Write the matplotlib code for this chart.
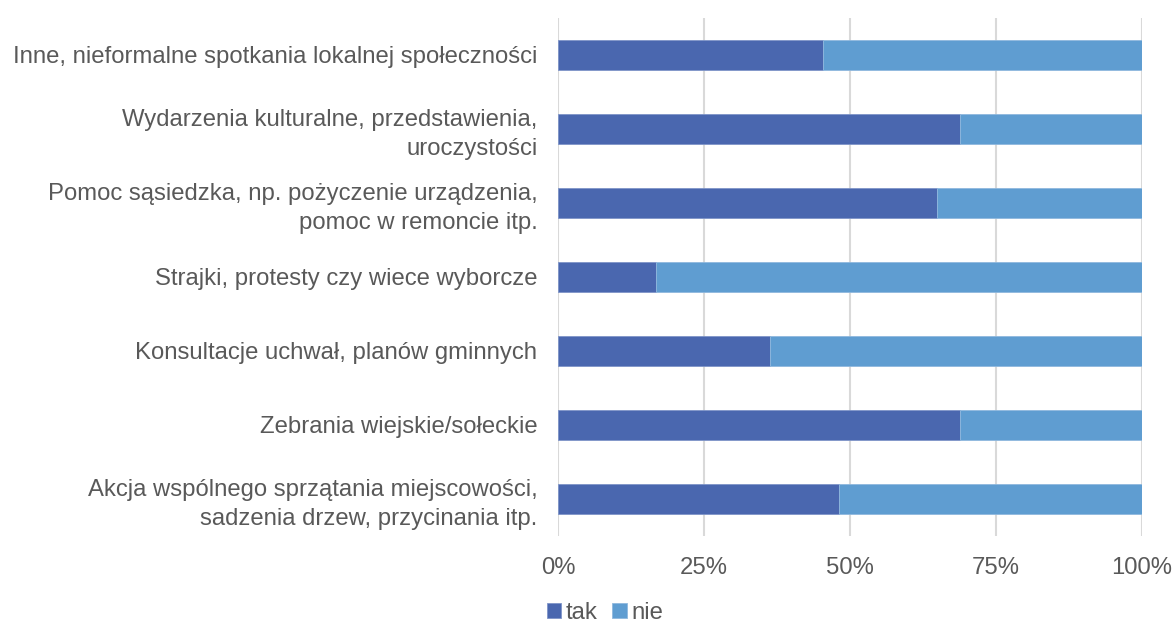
import matplotlib.pyplot as plt
from matplotlib.ticker import PercentFormatter

plt.rcParams['font.family'] = ['Liberation Sans', 'DejaVu Sans']

categories = [
    "Akcja wspólnego sprzątania miejscowości,\nsadzenia drzew, przycinania itp.",
    "Zebrania wiejskie/sołeckie",
    "Konsultacje uchwał, planów gminnych",
    "Strajki, protesty czy wiece wyborcze",
    "Pomoc sąsiedzka, np. pożyczenie urządzenia,\npomoc w remoncie itp.",
    "Wydarzenia kulturalne, przedstawienia,\nuroczystości",
    "Inne, nieformalne spotkania lokalnej społeczności",
]
tak = [48.1, 68.8, 36.3, 16.8, 64.9, 68.8, 45.4]
nie = [100 - v for v in tak]

c_tak = '#4A67AF'
c_nie = '#5F9DD1'
txt = '#595959'
fs = 17.2

fig = plt.figure(figsize=(11.75, 6.25), dpi=100)
ax = fig.add_axes([0.475, 0.1424, 0.497, 0.829])

y = range(len(categories))
ax.barh(y, tak, height=0.4, color=c_tak, label='tak', edgecolor='#7f95c8', linewidth=0.6)
ax.barh(y, nie, left=tak, height=0.4, color=c_nie, label='nie', edgecolor='#8fb8de', linewidth=0.6)

ax.set_xlim(0, 100)
ax.set_ylim(-0.5, len(categories) - 0.5)
ax.set_xticks([0, 25, 50, 75, 100])
ax.xaxis.set_major_formatter(PercentFormatter(decimals=0))
ax.set_yticks(list(y))
ax.set_yticklabels(categories, fontsize=fs, color=txt, linespacing=1.38)
ax.tick_params(axis='x', labelsize=fs, colors=txt, length=0, pad=15)
ax.tick_params(axis='y', length=0, pad=15)
ax.grid(axis='x', color='#d9d9d9', linewidth=1.5)
ax.set_axisbelow(True)
for s in ax.spines.values():
    s.set_visible(False)

fig.legend(loc='lower center', bbox_to_anchor=(0.515, -0.033), ncol=2, frameon=False,
           fontsize=fs, labelcolor=txt, handlelength=0.6, handleheight=0.6,
           handletextpad=0.2, columnspacing=0.6)

fig.savefig('out.png', dpi=100)
